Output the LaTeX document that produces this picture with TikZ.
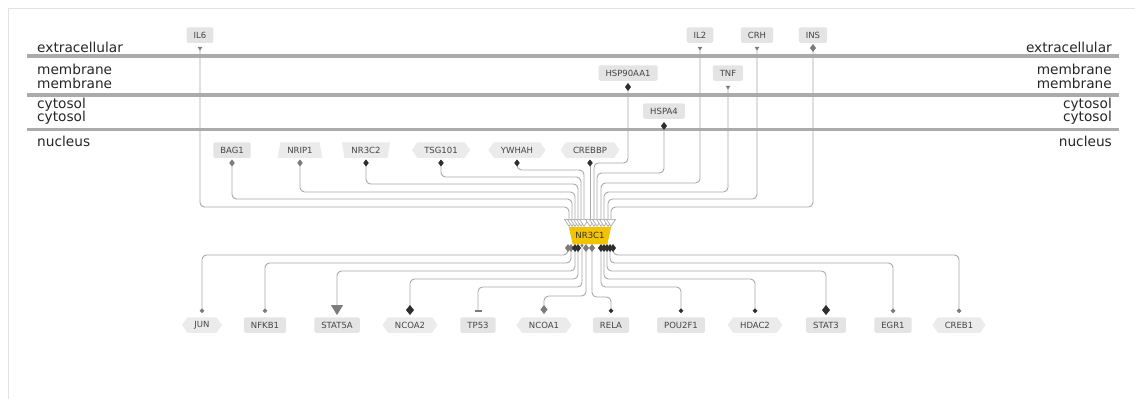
\documentclass[tikz,border=0pt]{standalone}
\usepackage{fontspec}
\setmainfont{DejaVu Sans}
\usetikzlibrary{arrows.meta,shapes.geometric,shapes.symbols,calc}
\definecolor{lanegray}{HTML}{ABABAB}
\definecolor{framegray}{HTML}{E2E2E2}
\definecolor{boxgray}{HTML}{E4E4E4}
\definecolor{hexgray}{HTML}{EBEBEB}
\definecolor{edgegray}{HTML}{A8A8A8}
\definecolor{labgray}{HTML}{454545}
\definecolor{gold}{HTML}{F2C300}
\definecolor{dgray}{HTML}{7C7C7C}
\definecolor{dblack}{HTML}{2E2E2E}
\tikzset{
  lane/.style={draw=lanegray, line width=3.5pt},
  lanelab/.style={font=\fontsize{13.7}{14}\selectfont, text=black!85, inner sep=0pt},
  gn/.style={font=\fontsize{8.5}{9}\selectfont, text=labgray, inner xsep=7pt, inner ysep=0pt, minimum height=15.5pt},
  boxn/.style={gn, fill=boxgray, rounded corners=1.5pt},
  hexn/.style={gn, fill=hexgray, signal, signal to=east and west, signal pointer angle=110},
  trapn/.style={gn, fill=hexgray, trapezium, trapezium angle=68, trapezium stretches=true},
  itrapn/.style={trapn, shape border rotate=180},
  nrs/.style={font=\fontsize{8.5}{9}\selectfont, text=black!80, fill=gold, trapezium, trapezium angle=64,
    shape border rotate=180, trapezium stretches=true, minimum width=42pt, minimum height=17pt, inner sep=0pt},
  e/.style={draw=edgegray, line width=0.9pt, rounded corners=4.5pt},
  gdia/.tip={Diamond[length=8pt,width=6pt,color=dgray]},
  bdia/.tip={Diamond[length=8pt,width=6pt,color=dblack]},
  sdia/.tip={Diamond[length=7pt,width=5.5pt,color=dgray]},
  sbdia/.tip={Diamond[length=7pt,width=5.5pt,color=dblack]},
  ldia/.tip={Diamond[length=10pt,width=8pt,color=dblack]},
  lgdia/.tip={Diamond[length=9pt,width=7pt,color=dgray]},
  sarr/.tip={Triangle[reversed,length=3.5pt,width=4.5pt,color=dgray]},
  otri/.tip={Triangle[open,length=8pt,width=10pt,line width=0.7pt,color=edgegray,fill=white]},
  gdot/.tip={Circle[length=4.5pt,color=dgray]},
  bdot/.tip={Circle[length=4.5pt,color=dblack]},
  mdot/.tip={Circle[length=3pt,color=dgray]},
  btri/.tip={Triangle[length=10pt,width=12pt,color=dgray]},
  tee/.tip={Bar[width=7pt,line width=1.8pt,color=dgray]}
}
\begin{document}
\begin{tikzpicture}[x=1pt,y=-1pt]
\useasboundingbox (0,0) rectangle (1135,399);
% frame
\draw[framegray, line width=1pt] (8,399) -- (8,8) -- (1135,8);
% lanes
\draw[lane] (27,56) -- (1119,56);
\draw[lane] (27,95) -- (1119,95);
\draw[lane] (27,129.5) -- (1119,129.5);
\node[lanelab, anchor=base west] (lx) at (37,52) {extracellular};
\node[lanelab, anchor=base west] (lm1) at (37,74) {membrane};
\node[lanelab, anchor=base west] (lm2) at (37,88) {membrane};
\node[lanelab, anchor=base west] (lc1) at (37,108.5) {cytosol};
\node[lanelab, anchor=base west] (lc2) at (37,121) {cytosol};
\node[lanelab, anchor=base west] (ln) at (37,146) {nucleus};
\node[lanelab, anchor=base east] (rx) at (1112,52) {extracellular};
\node[lanelab, anchor=base east] (rm1) at (1112,74) {membrane};
\node[lanelab, anchor=base east] (rm2) at (1112,88) {membrane};
\node[lanelab, anchor=base east] (rc1) at (1112,108.5) {cytosol};
\node[lanelab, anchor=base east] (rc2) at (1112,121) {cytosol};
\node[lanelab, anchor=base east] (rn) at (1112,146) {nucleus};
% top nodes
\node[boxn] (il6) at (200,35) {IL6};
\node[boxn] (il2) at (700,35) {IL2};
\node[boxn] (crh) at (757,35) {CRH};
\node[boxn] (ins) at (813,35) {INS};
\node[boxn] (hsp) at (628,73) {HSP90AA1};
\node[boxn] (tnf) at (728,73) {TNF};
\node[boxn] (hspa) at (664,111) {HSPA4};
% nucleus row
\node[boxn] (bag1) at (232,150) {BAG1};
\node[trapn] (nrip1) at (300,150) {NRIP1};
\node[itrapn] (nr3c2) at (366,150) {NR3C2};
\node[hexn] (tsg) at (441,150) {TSG101};
\node[hexn] (ywhah) at (517,150) {YWHAH};
\node[hexn] (crebbp) at (590,150) {CREBBP};
% centre
\node[nrs] (nr) at (590,235.5) {NR3C1};
% bottom row
\node[hexn] (jun) at (202,325) {JUN};
\node[boxn] (nfkb1) at (265,325) {NFKB1};
\node[boxn] (stat5a) at (337,325) {STAT5A};
\node[hexn] (ncoa2) at (410,325) {NCOA2};
\node[boxn] (tp53) at (478,325) {TP53};
\node[hexn] (ncoa1) at (544,325) {NCOA1};
\node[boxn] (rela) at (611,325) {RELA};
\node[boxn] (pou) at (681,325) {POU2F1};
\node[hexn] (hdac2) at (755,325) {HDAC2};
\node[boxn] (stat3) at (826,325) {STAT3};
\node[boxn] (egr1) at (893,325) {EGR1};
\node[hexn] (creb1) at (959,325) {CREB1};
% entry points on top of NR3C1
\coordinate (i1) at ($(nr.center)+(-21,-8.5)$);
\coordinate (i2) at ($(nr.center)+(-18,-8.5)$);
\coordinate (i3) at ($(nr.center)+(-15,-8.5)$);
\coordinate (i4) at ($(nr.center)+(-12,-8.5)$);
\coordinate (i5) at ($(nr.center)+(-9,-8.5)$);
\coordinate (i6) at ($(nr.center)+(-6,-8.5)$);
\coordinate (i7) at ($(nr.center)+(0,-8.5)$);
\coordinate (i8) at ($(nr.center)+(4,-8.5)$);
\coordinate (i9) at ($(nr.center)+(7,-8.5)$);
\coordinate (i10) at ($(nr.center)+(11,-8.5)$);
\coordinate (i11) at ($(nr.center)+(14,-8.5)$);
\coordinate (i12) at ($(nr.center)+(18,-8.5)$);
\coordinate (i13) at ($(nr.center)+(21,-8.5)$);
% exit points below NR3C1
\coordinate (o1) at ($(nr.center)+(-22,8.5)$);
\coordinate (o2) at ($(nr.center)+(-19,8.5)$);
\coordinate (o3) at ($(nr.center)+(-15,8.5)$);
\coordinate (o4) at ($(nr.center)+(-12,8.5)$);
\coordinate (o5) at ($(nr.center)+(-8,8.5)$);
\coordinate (o6) at ($(nr.center)+(-4,8.5)$);
\coordinate (o7) at ($(nr.center)+(2,8.5)$);
\coordinate (o8) at ($(nr.center)+(11,8.5)$);
\coordinate (o9) at ($(nr.center)+(14,8.5)$);
\coordinate (o10) at ($(nr.center)+(17,8.5)$);
\coordinate (o11) at ($(nr.center)+(20,8.5)$);
\coordinate (o12) at ($(nr.center)+(23,8.5)$);
% incoming edges
\draw[e, sarr-otri] ($(il6.south)+(0,4)$) |- (i1 |- 0,207) -- (i1);
\draw[e, sdia-otri] ($(bag1.south)+(0,1.5)$) |- (i2 |- 0,199) -- (i2);
\draw[e, sdia-otri] ($(nrip1.south)+(0,1.5)$) |- (i3 |- 0,192) -- (i3);
\draw[e, sbdia-otri] ($(nr3c2.south)+(0,1.5)$) |- (i4 |- 0,184) -- (i4);
\draw[e, sbdia-otri] ($(tsg.south)+(0,1.5)$) |- (i5 |- 0,177) -- (i5);
\draw[e, sbdia-otri] ($(ywhah.south)+(0,1.5)$) |- (i6 |- 0,170) -- (i6);
\draw[e, sbdia-otri] ($(crebbp.south)+(0,1.5)$) -- (i7);
\draw[e, bdia-otri] ($(hsp.south)+(0,2)$) |- (i8 |- 0,163) -- (i8);
\draw[e, bdia-otri] ($(hspa.south)+(0,3)$) |- (i9 |- 0,173) -- (i9);
\draw[e, sarr-otri] ($(il2.south)+(0,4)$) |- (i10 |- 0,183) -- (i10);
\draw[e, sarr-otri] ($(tnf.south)+(0,5)$) |- (i11 |- 0,192) -- (i11);
\draw[e, sarr-otri] ($(crh.south)+(0,4)$) |- (i12 |- 0,199) -- (i12);
\draw[e, gdia-otri] ($(ins.south)+(0,1)$) |- (i13 |- 0,207) -- (i13);
% outgoing edges
\draw[e, gdia-gdot] (o1) |- (jun.north |- 0,255) -- ($(jun.north)+(0,-4)$);
\draw[e, gdia-gdot] (o2) |- (nfkb1.north |- 0,263) -- ($(nfkb1.north)+(0,-4)$);
\draw[e, bdia-btri] (o3) |- (stat5a.north |- 0,271) -- ($(stat5a.north)+(0,-2)$);
\draw[e, bdia-ldia] (o4) |- (ncoa2.north |- 0,279) -- ($(ncoa2.north)+(0,-2)$);
\draw[e, mdot-tee] (o5) |- (tp53.north |- 0,287) -- ($(tp53.north)+(0,-5)$);
\draw[e, gdia-lgdia] (o6) |- (ncoa1.north |- 0,296) -- ($(ncoa1.north)+(0,-3)$);
\draw[e, gdia-bdot] (o7) |- (rela.north |- 0,297) -- ($(rela.north)+(0,-4)$);
\draw[e, bdia-bdot] (o8) |- (pou.north |- 0,287) -- ($(pou.north)+(0,-4)$);
\draw[e, bdia-bdot] (o9) |- (hdac2.north |- 0,279) -- ($(hdac2.north)+(0,-4)$);
\draw[e, bdia-ldia] (o10) |- (stat3.north |- 0,271) -- ($(stat3.north)+(0,-2)$);
\draw[e, bdia-gdot] (o11) |- (egr1.north |- 0,263) -- ($(egr1.north)+(0,-4)$);
\draw[e, bdia-gdot] (o12) |- (creb1.north |- 0,255) -- ($(creb1.north)+(0,-4)$);
% redraw NR3C1 on top of tips
\node[nrs] at (nr.center) {NR3C1};
\end{tikzpicture}
\end{document}
